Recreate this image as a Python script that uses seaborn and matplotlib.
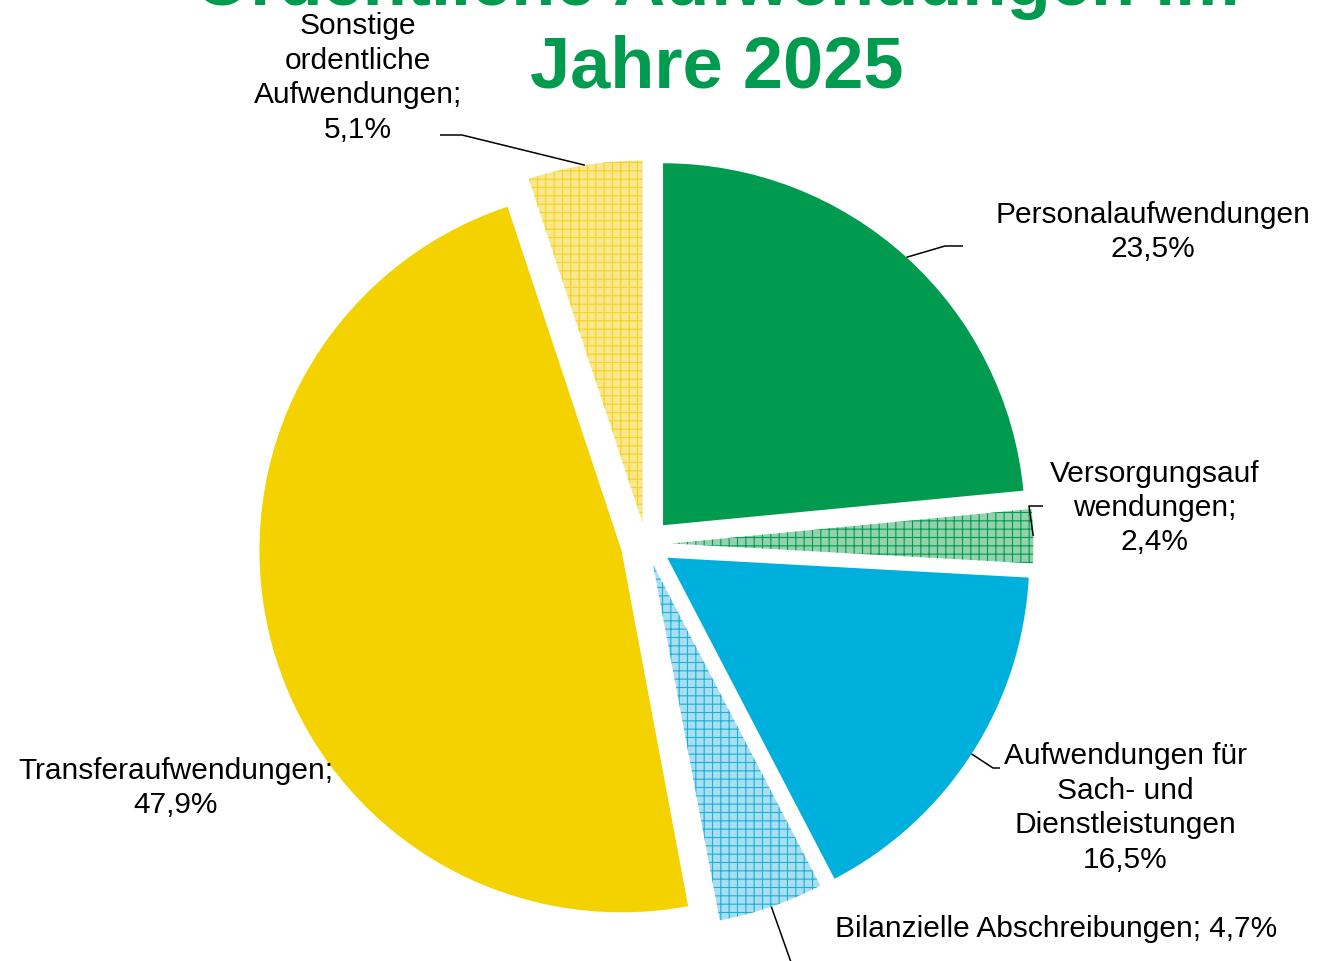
import numpy as np
import matplotlib
matplotlib.use("Agg")
import matplotlib.pyplot as plt
import seaborn as sns

# Daten
kategorien = ["Personalaufwendungen", "Versorgungsaufwendungen",
              "Aufwendungen für Sach- und Dienstleistungen",
              "Bilanzielle Abschreibungen", "Transferaufwendungen",
              "Sonstige ordentliche Aufwendungen"]
anteile = [23.5, 2.4, 16.5, 4.7, 47.9, 5.1]
beschriftungen = ["Personalaufwendungen\n23,5%",
                  "Versorgungsauf\nwendungen;\n2,4%",
                  "Aufwendungen für\nSach- und\nDienstleistungen\n16,5%",
                  "Bilanzielle Abschreibungen; 4,7%",
                  "Transferaufwendungen;\n47,9%",
                  "Sonstige\nordentliche\nAufwendungen;\n5,1%"]
farben = ["#009B4E", "#93d2ad", "#00B0DC", "#a9def0", "#F3D200", "#f9e68f"]
muster_farben = [None, "#009B4E", None, "#16b0d8", None, "#f3d41a"]

sns.set_theme(style="white")
plt.rcParams['font.family'] = ['Liberation Sans', 'DejaVu Sans']
plt.rcParams['hatch.linewidth'] = 0.8

W, H = 1318, 961
fig = plt.figure(figsize=(W / 100, H / 100), dpi=100)

cx, cy, R = 646, 544, 362
lim = 1.1
size = 2 * lim * R
ax = fig.add_axes([(cx - size / 2) / W, (H - cy - size / 2) / H, size / W, size / H])

wedges, _ = ax.pie(anteile, colors=farben, startangle=90, counterclock=False,
                   explode=[0.07, 0.07, 0.07, 0.06, 0.07, 0.06], radius=1,
                   wedgeprops=dict(linewidth=0))
for w, hc in zip(wedges, muster_farben):
    if hc is not None:
        w.set_hatch("++")
        w.set_edgecolor(hc)
        w.set_linewidth(0)

ax.set_xlim(-lim, lim)
ax.set_ylim(-lim, lim)
ax.set_aspect("equal")
ax.axis("off")


def px(x, y):
    return ((x - cx) / R, (cy - y) / R)


def anker(w, frac=0.5):
    a = np.deg2rad(w.theta1 + frac * (w.theta2 - w.theta1))
    return (w.center[0] + w.r * np.cos(a), w.center[1] + w.r * np.sin(a))


text_pos = [(1153, 232), (1155, 508), (1125, 808), (1056, 929), (176, 788), (358, 78)]
for lab, (tx, ty) in zip(beschriftungen, text_pos):
    x, y = px(tx, ty)
    ax.text(x, y, lab, ha="center", va="center", fontsize=21.5, color="black",
            linespacing=1.29, clip_on=False)

# Führungslinien
leader = {
    0: [px(945, 246), px(963, 246)],
    1: [px(1029, 506), px(1043, 506)],
    2: [px(993, 768), px(1000, 768)],
    3: [px(792, 965)],
    5: [px(462, 135), px(440, 135)],
}
for i, pts in leader.items():
    a = anker(wedges[i])
    xs = [a[0]] + [p[0] for p in pts]
    ys = [a[1]] + [p[1] for p in pts]
    ax.plot(xs, ys, color="black", lw=1.1, clip_on=False, solid_capstyle="butt")

fig.text(717 / W, 1 - 5 / H, "Ordentliche Aufwendungen im", ha="center", va="baseline",
         fontsize=52, fontweight="bold", color="#009B4E")
fig.text(717 / W, 1 - 87 / H, "Jahre 2025", ha="center", va="baseline",
         fontsize=52, fontweight="bold", color="#009B4E")

fig.savefig("out.png", dpi=100, facecolor="white")
